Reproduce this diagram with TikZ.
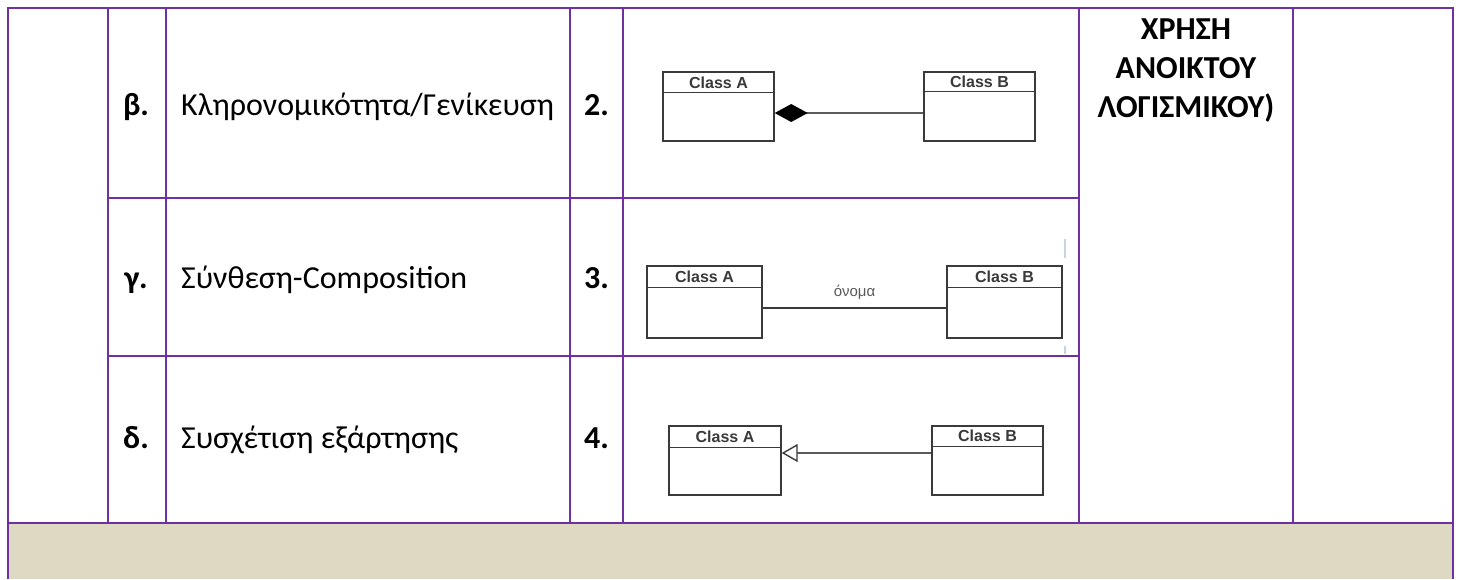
\documentclass[tikz,border=0pt]{standalone}
\usepackage{fontspec}
\setmainfont{Carlito}
\newfontfamily\umlfont{Liberation Sans}
\usetikzlibrary{arrows.meta}
\definecolor{gridpurple}{RGB}{112,48,160}
\definecolor{tanfill}{RGB}{221,217,195}
\definecolor{umlgray}{RGB}{58,58,58}
\definecolor{linkgray}{RGB}{90,90,90}
\definecolor{markblue}{RGB}{200,212,226}
\tikzset{
  grid/.style={draw=gridpurple, line width=2pt},
  celltext/.style={inner sep=0pt, anchor=base west, font=\fontsize{32}{39}\selectfont},
  celllabel/.style={inner sep=0pt, anchor=base, font=\fontsize{32}{39}\selectfont\bfseries},
  umlbox/.style={draw=umlgray, line width=1.4pt, fill=white, inner sep=0pt,
                 minimum width=111pt, minimum height=69pt},
  umltitle/.style={inner sep=0pt, text=umlgray, font=\umlfont\fontsize{16}{18}\selectfont\bfseries},
  umlsep/.style={draw=umlgray, line width=1.4pt},
  link/.style={draw=linkgray, line width=2pt},
}
\begin{document}
\begin{tikzpicture}[x=1pt,y=-1pt]
\useasboundingbox (0,0) rectangle (1459,579);
\fill[white] (0,0) rectangle (1459,579);
\fill[tanfill] (8,523) rectangle (1453,579);

% table rules
\draw[grid] (8,579) -- (8,8) -- (1453,8) -- (1453,579);
\draw[grid] (8,523) -- (1453,523);
\draw[grid] (108,198) -- (1079,198);
\draw[grid] (108,356) -- (1079,356);
\foreach \cx in {108,166,570,623,1079,1293}
  \draw[grid] (\cx,8) -- (\cx,523);

% row labels and descriptions
\node[celllabel] (lb) at (136,115) {β.};
\node[celltext]  (tb) at (181,115) {Κληρονομικότητα/Γενίκευση};
\node[celllabel] (n2) at (596.5,115) {2.};

\node[celllabel] (lg) at (136,288) {γ.};
\node[celltext]  (tg) at (181,288) {Σύνθεση-Composition};
\node[celllabel] (n3) at (596.5,288) {3.};

\node[celllabel] (ld) at (136,448) {δ.};
\node[celltext]  (td) at (181,448) {Συσχέτιση εξάρτησης};
\node[celllabel] (n4) at (596.5,448) {4.};

% heading in the wide column
\node[celllabel] (h1) at (1186,39) {ΧΡΗΣΗ};
\node[celllabel] (h2) at (1186,78) {ΑΝΟΙΚΤΟΥ};
\node[celllabel] (h3) at (1186,117) {ΛΟΓΙΣΜΙΚΟΥ)};

% composition: Class A <filled diamond>--- Class B
\node[umlbox] (a1) at (718.5,106.5) {};
\node[umlbox] (b1) at (979.5,106.5) {};
\draw[umlsep] ([yshift=-21pt]a1.north west) -- ([yshift=-21pt]a1.north east);
\draw[umlsep] ([yshift=-20pt]b1.north west) -- ([yshift=-20pt]b1.north east);
\node[umltitle] (a1t) at ([yshift=-11pt]a1.north) {Class A};
\node[umltitle] (b1t) at ([yshift=-10.5pt]b1.north) {Class B};
\draw[link, -{Diamond[length=33pt,width=18pt,color=black,fill=black]}]
  ([yshift=-6.5pt]b1.west) -- ([yshift=-6.5pt]a1.east);

% association: Class A --- όνομα --- Class B
\node[umlbox, minimum width=115pt, minimum height=72pt] (a2) at (704.5,302) {};
\node[umlbox, minimum width=115pt, minimum height=72pt] (b2) at (1004.5,302) {};
\draw[umlsep] ([yshift=-22pt]a2.north west) -- ([yshift=-22pt]a2.north east);
\draw[umlsep] ([yshift=-22pt]b2.north west) -- ([yshift=-22pt]b2.north east);
\node[umltitle] (a2t) at ([yshift=-11.5pt]a2.north) {Class A};
\node[umltitle] (b2t) at ([yshift=-11.5pt]b2.north) {Class B};
\draw[draw=umlgray, line width=1.4pt] ([yshift=-6pt]a2.east) -- ([yshift=-6pt]b2.west)
  node[midway, above=8pt, inner sep=0pt, text=linkgray, font=\umlfont\fontsize{15}{17}\selectfont] (r2) {όνομα};
\draw[draw=markblue, line width=1.5pt] (1065,239) -- (1065,258);
\draw[draw=markblue, line width=1.5pt] (1065,346) -- (1065,354);

% generalisation: Class A <|--- Class B
\node[umlbox, minimum width=112pt] (a3) at (725,460.5) {};
\node[umlbox] (b3) at (987.5,460.5) {};
\draw[umlsep] ([yshift=-22pt]a3.north west) -- ([yshift=-22pt]a3.north east);
\draw[umlsep] ([yshift=-21pt]b3.north west) -- ([yshift=-21pt]b3.north east);
\node[umltitle] (a3t) at ([yshift=-11pt]a3.north) {Class A};
\node[umltitle] (b3t) at ([yshift=-10.5pt]b3.north) {Class B};
\draw[link, -{Triangle[open,length=16pt,width=18pt,color=umlgray,fill=white,line width=1.4pt]}]
  ([yshift=7.5pt]b3.west) -- ([yshift=7.5pt]a3.east);
\end{tikzpicture}
\end{document}
